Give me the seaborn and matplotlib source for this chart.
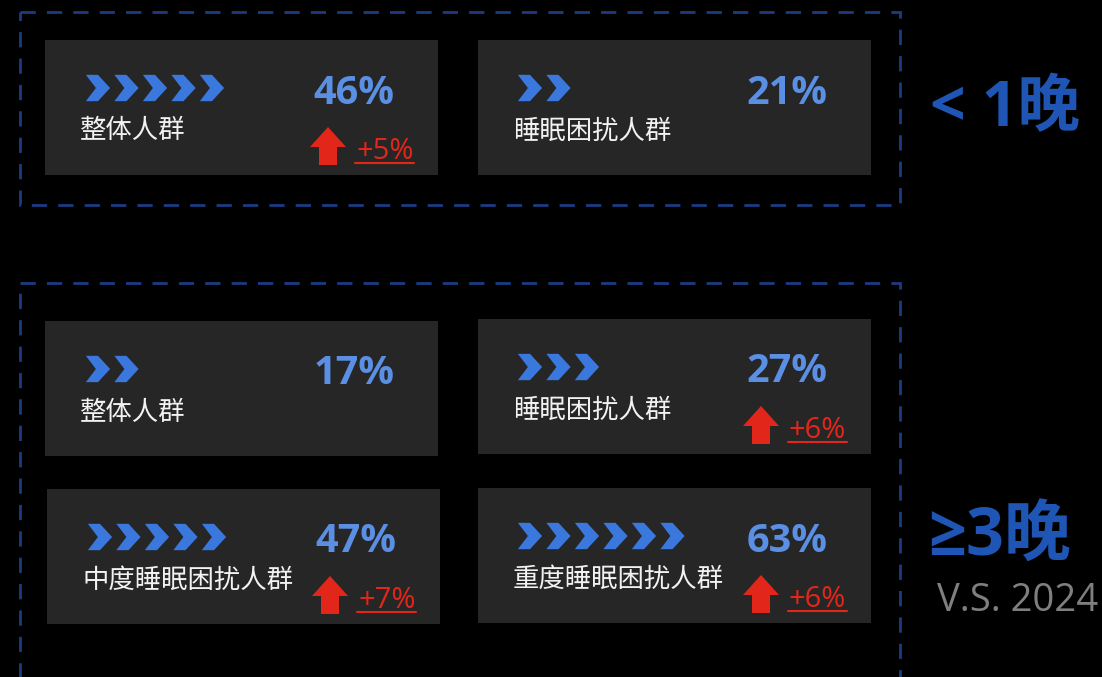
import numpy as np
import pandas as pd
import matplotlib.pyplot as plt
import matplotlib.patches as mpatches
from matplotlib.path import Path
import seaborn as sns


# data
GROUPS = ["整体人群", "睡眠困扰人群", "整体人群", "睡眠困扰人群", "中度睡眠困扰人群", "重度睡眠困扰人群"]
VALUES = [46, 21, 17, 27, 47, 63]
CHEVRONS = [5, 2, 2, 3, 5, 6]
CHANGES = [5, None, None, 6, 7, 6]
SECTIONS = ["< 1晚", "≥3晚"]
COMPARE_LABEL = "V.S. 2024"

# layout (pixel space of the 1102x677 canvas)
CARD_X = [45, 478, 45, 478, 47, 478]
CARD_Y = [40, 40, 321, 319, 489, 488]
CARD_W = 393
CARD_H = 135

BG = "#000000"
CARD_BG = "#262626"
CHEVRON_COLOR = "#3a78de"
VALUE_COLOR = "#5a8fe3"
RED = "#e3261a"
SECTION_COLOR = "#1f56b5"
DASH_COLOR = "#1b3c82"

LATIN = ["Open Sans", "DejaVu Sans", "Noto Sans CJK SC"]
CJK = ["Noto Sans CJK SC", "DejaVu Sans"]


def chevron_marker() -> Path:
    verts = [
        (-0.46, 0.5), (0.0, 0.5), (0.46, 0.0), (0.0, -0.5),
        (-0.46, -0.5), (-0.08, 0.0), (-0.46, 0.5),
    ]
    codes = [Path.MOVETO] + [Path.LINETO] * 5 + [Path.CLOSEPOLY]
    return Path(verts, codes)


sns.set_theme(style="white")
plt.rcParams["font.family"] = LATIN

fig = plt.figure(figsize=(11.02, 6.77), dpi=100, facecolor=BG)
ax = fig.add_axes([0, 0, 1, 1])
ax.set_facecolor(BG)

# dashed section frames
for y0, y1 in [(12, 205), (283, 690)]:
    ax.add_patch(mpatches.Rectangle(
        (19.5, y0), 880, y1 - y0, fill=False, edgecolor=DASH_COLOR,
        linewidth=2, linestyle=(0, (5.5, 4)),
    ))

# cards
for x, y in zip(CARD_X, CARD_Y):
    ax.add_patch(mpatches.Rectangle((x, y), CARD_W, CARD_H, facecolor=CARD_BG, edgecolor="none"))

# chevrons
rows = []
for i, n in enumerate(CHEVRONS):
    offset = 53 if CARD_X[i] < 100 else 52
    for k in range(n):
        rows.append({"x": CARD_X[i] + offset + k * 28.5, "y": CARD_Y[i] + 48})
chev = pd.DataFrame(rows)
sns.scatterplot(
    data=chev, x="x", y="y", marker=chevron_marker(), s=360,
    color=CHEVRON_COLOR, edgecolor="none", linewidth=0, ax=ax, legend=False,
)
ax.set_xlim(0, 1102)
ax.set_ylim(677, 0)
ax.axis("off")

for i, (label, value, change) in enumerate(zip(GROUPS, VALUES, CHANGES)):
    x, y = CARD_X[i], CARD_Y[i]
    ax.text(x + 309, y + 53, f"{value}%", color=VALUE_COLOR, fontsize=28.5,
            fontweight="bold", ha="center", va="center", family=LATIN)
    ax.text(x + 35, y + 91, label, color="#f2f2f2", fontsize=19,
            ha="left", va="center", family=CJK)
    if change is not None:
        ay = y + 87
        ax.add_patch(mpatches.FancyArrow(
            x + 283, ay + 38, 0, -38, width=18, head_width=36, head_length=20,
            length_includes_head=True, color=RED, linewidth=0,
        ))
        ax.text(x + 311, ay + 32, f"+{change}%", color=RED, fontsize=21,
                ha="left", va="baseline", family=LATIN)
        ax.plot([x + 310, x + 369], [ay + 35.5, ay + 35.5], color=RED, linewidth=1.5)

ax.text(930, 110, SECTIONS[0], color=SECTION_COLOR, fontsize=45, fontweight="bold",
        ha="left", va="center", family=LATIN)
ax.text(928, 538, SECTIONS[1], color=SECTION_COLOR, fontsize=48, fontweight="bold",
        ha="left", va="center", family=LATIN)
ax.text(937, 601, COMPARE_LABEL, color="#7f7f7f", fontsize=27.5,
        ha="left", va="center", family=LATIN)

fig.savefig("out.png", dpi=100, facecolor=BG)
